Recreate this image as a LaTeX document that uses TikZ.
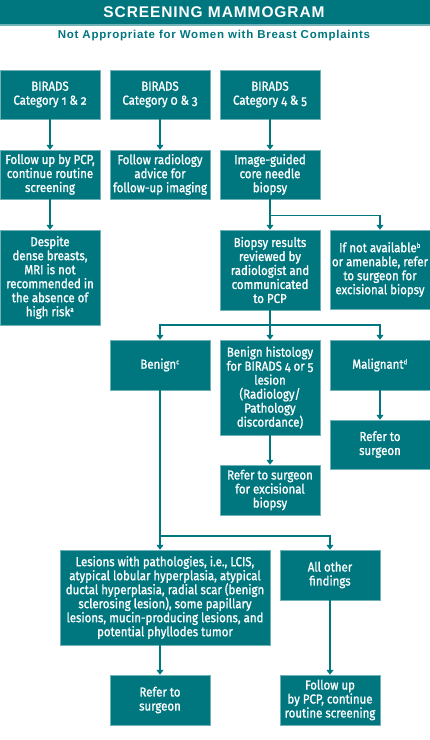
\documentclass[tikz,border=0pt]{standalone}
\usepackage{fontspec}
\setmainfont{Fira Sans}[FakeStretch=0.88, FakeBold=1.2, Numbers=OldStyle]
\newfontfamily\headfont{Liberation Sans}[LetterSpace=5.8]
\newfontfamily\subfont{Liberation Sans}[LetterSpace=6.5]
\usetikzlibrary{arrows.meta}
\definecolor{tealc}{HTML}{00767F}
\definecolor{tealline}{HTML}{6FB3B8}
\newcommand{\supx}[1]{\textsuperscript{\fontsize{7}{7}\selectfont #1}}
\begin{document}
\begin{tikzpicture}[x=1pt,y=-1pt,
  box/.style={rectangle, fill=tealc, draw=tealline, line width=0.5pt, text=white, inner sep=0pt,
    align=center, font=\fontsize{13}{14}\selectfont, minimum width=100pt},
  arr/.style={draw=tealc, line width=1.8pt, -{Triangle[length=5pt,width=7pt]}},
  ln/.style={draw=tealc, line width=1.8pt}]
\useasboundingbox (0,0) rectangle (430,740);
% header
\fill[tealc] (0,0) rectangle (430,24);
\fill[tealline] (0,24) rectangle (430,25.5);
\node[text=white, font=\headfont\fontsize{15.5}{16}\selectfont\bfseries] (title) at (214,12.5) {SCREENING MAMMOGRAM};
\node[text=tealc, font=\subfont\fontsize{11.5}{13}\selectfont\bfseries] (sub) at (214,36) {Not Appropriate for Women with Breast Complaints};
% row 1
\node[box, minimum height=49pt] (b1) at (50,94.5) {BIRADS\\Category 1 \& 2};
\node[box, minimum height=49pt] (b2) at (160,94.5) {BIRADS\\Category 0 \& 3};
\node[box, minimum height=49pt] (b3) at (270,94.5) {BIRADS\\Category 4 \& 5};
% row 2
\node[box, minimum height=49pt] (f1) at (50,174.5) {Follow up by PCP,\\continue routine\\screening};
\node[box, minimum height=49pt] (f2) at (160,174.5) {Follow radiology\\advice for\\follow-up imaging};
\node[box, minimum height=49pt] (f3) at (270,174.5) {Image-guided\\core needle\\biopsy};
% row 3
\node[box, minimum height=95pt] (d1) at (50,277.5) {Despite\\dense breasts,\\MRI is not\\recommended in\\the absence of\\high risk\supx{a}};
\node[box, minimum height=80pt] (r1) at (270,270) {Biopsy results\\reviewed by\\radiologist and\\communicated\\to PCP};
\node[box, minimum height=79pt] (n1) at (380,269.5) {If not available\supx{b}\\or amenable, refer\\to surgeon for\\excisional biopsy};
% row 4
\node[box, minimum height=50pt] (ben) at (160,365) {Benign\supx{c}};
\node[box, minimum height=95pt] (bh) at (270,387.5) {Benign histology\\for BIRADS 4 or 5\\lesion\\(Radiology/\\Pathology\\discordance)};
\node[box, minimum height=50pt] (mal) at (380,365) {Malignant\supx{d}};
\node[box, minimum height=49pt] (rs1) at (380,444.5) {Refer to\\surgeon};
\node[box, minimum height=50pt] (rs2) at (270,490) {Refer to surgeon\\for excisional\\biopsy};
% row 5
\node[box, minimum height=95pt, minimum width=210pt] (les) at (165,597.5) {Lesions with pathologies, i.e., LCIS,\\atypical lobular hyperplasia, atypical\\ductal hyperplasia, radial scar (benign\\sclerosing lesion), some papillary\\lesions, mucin-producing lesions, and\\potential phyllodes tumor};
\node[box, minimum height=50pt] (oth) at (330,575) {All other\\findings};
\node[box, minimum height=50pt] (rs3) at (160,700) {Refer to\\surgeon};
\node[box, minimum height=50pt] (fu) at (330,700) {Follow up\\by PCP, continue\\routine screening};
% junctions
\coordinate (j1) at (270,215.5);
\coordinate (j2) at (270,325);
\coordinate (j3) at (160,536);
% connectors
\draw[arr] (b1) -- (f1);
\draw[arr] (b2) -- (f2);
\draw[arr] (b3) -- (f3);
\draw[arr] (f1) -- (d1);
\draw[arr] (f3) -- (r1);
\draw[arr] (j1) -| (n1.north);
\draw[arr] (r1) -- (bh);
\draw[arr] (j2) -| (ben.north);
\draw[arr] (j2) -| (mal.north);
\draw[arr] (mal) -- (rs1);
\draw[arr] (bh) -- (rs2);
\draw[arr] (ben.south) -- (ben.south |- les.north);
\draw[arr] (j3) -| (oth.north);
\draw[arr] (rs3.north |- les.south) -- (rs3.north);
\draw[arr] (oth) -- (fu);
\end{tikzpicture}
\end{document}
